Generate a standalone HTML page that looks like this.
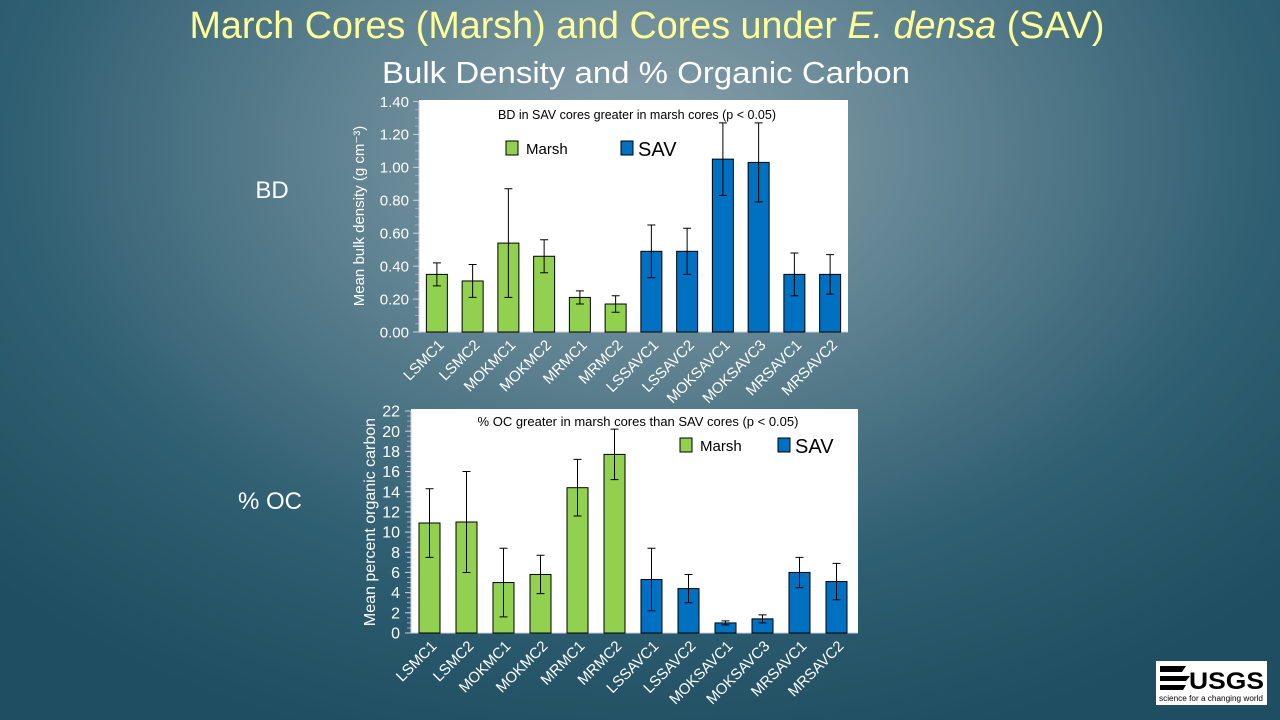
<!DOCTYPE html>
<html><head><meta charset="utf-8"><style>
html,body{margin:0;padding:0;width:1280px;height:720px;overflow:hidden}
body{background:radial-gradient(ellipse 900px 620px at 640px 150px,#8aa1ab 0%,#5f8291 35%,#2f5f72 70%,#1f4d61 100%);font-family:"Liberation Sans",sans-serif}
svg{position:absolute;left:0;top:0}
</style></head><body>
<svg id="s" width="1280" height="720">
<text x="647" y="38" text-anchor="middle" font-size="38" fill="#ffff99" textLength="915" lengthAdjust="spacingAndGlyphs">March Cores (Marsh) and Cores under <tspan font-style="italic">E. densa</tspan> (SAV)</text>
<text x="646" y="83" text-anchor="middle" font-size="31" fill="#fff" textLength="528" lengthAdjust="spacingAndGlyphs">Bulk Density and % Organic Carbon</text>
<text x="272" y="198" text-anchor="middle" font-size="24" fill="#fff">BD</text>
<text x="270" y="509" text-anchor="middle" font-size="24" fill="#fff">% OC</text>
<g>
<rect x="1156" y="661" width="111" height="44" fill="#fff"/>
<path d="M1160 666h26l-4 6h-22zM1160 676h30l-4 5h-26zM1160 685h26l-3 5h-23z" fill="#000"/>
<text x="1189" y="689" font-size="24" font-weight="bold" fill="#000" textLength="75" lengthAdjust="spacingAndGlyphs">USGS</text>
<text x="1159" y="701" font-size="8" fill="#000" textLength="104" lengthAdjust="spacingAndGlyphs">science for a changing world</text>
</g>
<g id="c1"></g>
<g id="c2"></g>
</svg>
<script>
const categories=["LSMC1","LSMC2","MOKMC1","MOKMC2","MRMC1","MRMC2","LSSAVC1","LSSAVC2","MOKSAVC1","MOKSAVC3","MRSAVC1","MRSAVC2"];
const groups=["Marsh","Marsh","Marsh","Marsh","Marsh","Marsh","SAV","SAV","SAV","SAV","SAV","SAV"];
const bdValues=[0.35,0.31,0.54,0.46,0.21,0.17,0.49,0.49,1.05,1.03,0.35,0.35];
const bdErrors=[0.07,0.10,0.33,0.10,0.04,0.05,0.16,0.14,0.22,0.24,0.13,0.12];
const bdTicks=["0.00","0.20","0.40","0.60","0.80","1.00","1.20","1.40"];
const ocValues=[10.9,11.0,5.0,5.8,14.4,17.7,5.3,4.4,1.0,1.4,6.0,5.1];
const ocErrors=[3.4,5.0,3.4,1.9,2.8,2.5,3.1,1.4,0.2,0.4,1.5,1.8];
const ocTicks=["0","2","4","6","8","10","12","14","16","18","20","22"];
const NS="http://www.w3.org/2000/svg";
function mk(p,t,a,txt){const e=document.createElementNS(NS,t);for(const k in a)e.setAttribute(k,a[k]);if(txt!==undefined)e.textContent=txt;p.appendChild(e);return e;}
function chart(g,cfg,vals,errs,ticks){
 const {x0,x1,y0,yt,max,bg}=cfg;
 const xs=i=>x0+(x1-x0)/categories.length*(i+0.5);
 const ys=v=>y0-(v/max)*(y0-yt);
 const r=mk(g,'rect',{x:x0,y:bg[0],width:bg[1]-x0,height:y0-bg[0],fill:'#fff'});
 
 
 const nm=cfg.minor;
 for(let k=0;k<=nm;k++){const y=y0-(y0-yt)*k/nm;mk(g,'line',{x1:x0-4,x2:x0,y1:y,y2:y,stroke:'#aab',"stroke-width":1});}
 ticks.forEach(t=>{const v=parseFloat(t);const y=ys(v);
  const tx=mk(g,'text',{x:cfg.tx,y:y+cfg.tf*0.35,'text-anchor':'end','font-size':cfg.tf,fill:'#fff'},t);
  
  
  mk(g,'line',{x1:x0-6,x2:x0,y1:y,y2:y,stroke:'#ccd'});});
 mk(g,'line',{x1:x0,x2:x0,y1:yt,y2:y0,stroke:'#ccd'});
 mk(g,'line',{x1:x0,x2:bg[1],y1:y0,y2:y0,stroke:'#ccd'});
 vals.forEach((v,i)=>{const cx=xs(i),w=21;
  const b=mk(g,'rect',{x:cx-w/2,y:ys(v),width:w,height:y0-ys(v),fill:groups[i]=="Marsh"?'#92d050':'#0070c0',stroke:'#000','stroke-width':1});
  
  
  const hi=ys(v+errs[i]),lo=ys(v-errs[i]);
  const eb=mk(g,'path',{d:`M${cx} ${hi}V${lo}M${cx-4} ${hi}h8M${cx-4} ${lo}h8`,stroke:'#000',fill:'none','stroke-width':1});
  
  
  const lx=cx+8,ly=y0+cfg.ly;
  const lb=mk(g,'text',{x:lx,y:ly,'text-anchor':'end','font-size':15,fill:'#fff',transform:`rotate(-45 ${lx} ${ly})`},categories[i]);
  
  
 });
 const at=mk(g,'text',{x:cfg.ax,y:cfg.ay,'text-anchor':'middle','font-size':cfg.af,fill:'#fff',transform:`rotate(-90 ${cfg.ax} ${cfg.ay})`},cfg.atitle);
 
 
 const nt=mk(g,'text',{x:cfg.nx,y:cfg.ny,'text-anchor':'middle','font-size':cfg.nf,fill:'#000'},cfg.note);
 
 
 const L=cfg.leg;
 const l1=mk(g,'rect',{x:L[0],y:L[1],width:12,height:14,fill:'#92d050',stroke:'#000'});
 
 
 mk(g,'text',{x:L[0]+20,y:L[1]+13,'font-size':15,fill:'#000'},'Marsh');
 const l2=mk(g,'rect',{x:L[2],y:L[1],width:12,height:14,fill:'#0070c0',stroke:'#000'});
 
 
 mk(g,'text',{x:L[2]+17,y:L[1]+15,'font-size':20,fill:'#000'},'SAV');
}
chart(document.getElementById('c1'),{x0:419,x1:848,y0:332,yt:101.5,max:1.4,bg:[100,848],minor:28,tx:409,tf:15,ly:14,ax:364,ay:216,af:15,nx:637,ny:119,nf:12.5,note:'BD in SAV cores greater in marsh cores (p < 0.05)',leg:[506,141,621],atitle:'Mean bulk density (g cm⁻³)'},bdValues,bdErrors,bdTicks);
chart(document.getElementById('c2'),{x0:411,x1:855,y0:633,yt:411,max:22,bg:[409,858],minor:44,tx:400,tf:16,ly:14,ax:375,ay:522,af:16,nx:638,ny:426,nf:13,note:'% OC greater in marsh cores than SAV cores (p < 0.05)',leg:[680,438,778],atitle:'Mean percent organic carbon'},ocValues,ocErrors,ocTicks);
</script>
</body></html>
